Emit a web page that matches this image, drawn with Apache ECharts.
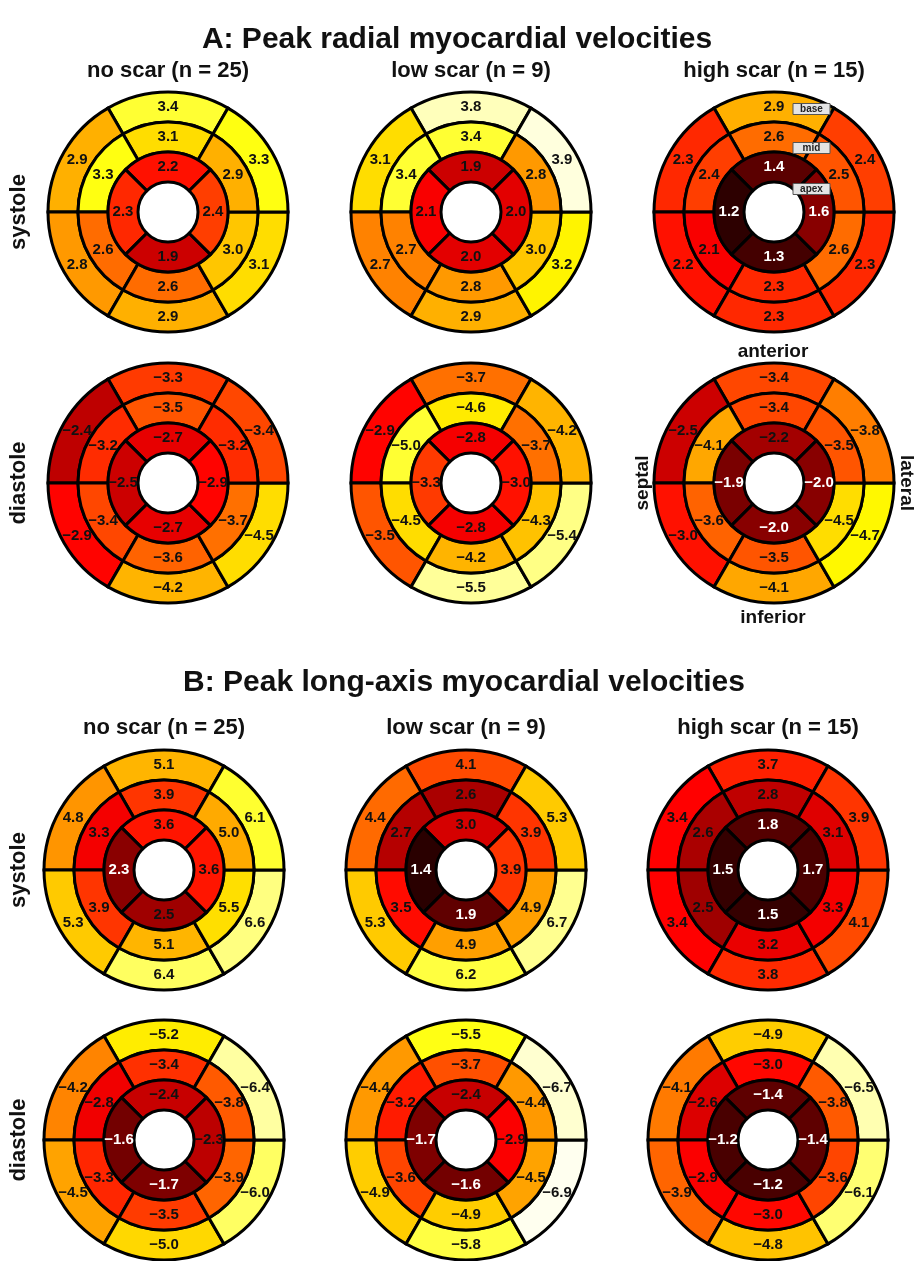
<!DOCTYPE html>
<html>
<head>
<meta charset="utf-8">
<title>Peak myocardial velocities</title>
<script src="https://cdn.jsdelivr.net/npm/echarts@6/dist/echarts.min.js"></script>
<style>
    html, body { margin: 0; padding: 0; background: #fff; }
    #chart { width: 914px; height: 1261px; }
</style>
</head>
<body>
<div id="chart"></div>
<script>
// segment order -- base / mid: [anterior, anteroseptal, inferoseptal, inferior, inferolateral, anterolateral]
//                  apex:       [anterior, septal, inferior, lateral]
var groups = ["no scar (n = 25)", "low scar (n = 9)", "high scar (n = 15)"];
var phases = ["systole", "diastole"];
var ringNames = ["base", "mid", "apex"];

// A: peak radial velocities, systole
var radSysBase = [[3.4, 2.9, 2.8, 2.9, 3.1, 3.3], [3.8, 3.1, 2.7, 2.9, 3.2, 3.9], [2.9, 2.3, 2.2, 2.3, 2.3, 2.4]];
var radSysMid  = [[3.1, 3.3, 2.6, 2.6, 3.0, 2.9], [3.4, 3.4, 2.7, 2.8, 3.0, 2.8], [2.6, 2.4, 2.1, 2.3, 2.6, 2.5]];
var radSysApex = [[2.2, 2.3, 1.9, 2.4], [1.9, 2.1, 2.0, 2.0], [1.4, 1.2, 1.3, 1.6]];

// A: peak radial velocities, diastole
var radDiaBase = [[-3.3, -2.4, -2.9, -4.2, -4.5, -3.4], [-3.7, -2.9, -3.5, -5.5, -5.4, -4.2], [-3.4, -2.5, -3.0, -4.1, -4.7, -3.8]];
var radDiaMid  = [[-3.5, -3.2, -3.4, -3.6, -3.7, -3.2], [-4.6, -5.0, -4.5, -4.2, -4.3, -3.7], [-3.4, -4.1, -3.6, -3.5, -4.5, -3.5]];
var radDiaApex = [[-2.7, -2.5, -2.7, -2.9], [-2.8, -3.3, -2.8, -3.0], [-2.2, -1.9, -2.0, -2.0]];

// B: peak long-axis velocities, systole
var longSysBase = [[5.1, 4.8, 5.3, 6.4, 6.6, 6.1], [4.1, 4.4, 5.3, 6.2, 6.7, 5.3], [3.7, 3.4, 3.4, 3.8, 4.1, 3.9]];
var longSysMid  = [[3.9, 3.3, 3.9, 5.1, 5.5, 5.0], [2.6, 2.7, 3.5, 4.9, 4.9, 3.9], [2.8, 2.6, 2.5, 3.2, 3.3, 3.1]];
var longSysApex = [[3.6, 2.3, 2.5, 3.6], [3.0, 1.4, 1.9, 3.9], [1.8, 1.5, 1.5, 1.7]];

// B: peak long-axis velocities, diastole
var longDiaBase = [[-5.2, -4.2, -4.5, -5.0, -6.0, -6.4], [-5.5, -4.4, -4.9, -5.8, -6.9, -6.7], [-4.9, -4.1, -3.9, -4.8, -6.1, -6.5]];
var longDiaMid  = [[-3.4, -2.8, -3.3, -3.5, -3.9, -3.8], [-3.7, -3.2, -3.6, -4.9, -4.5, -4.4], [-3.0, -2.6, -2.9, -3.0, -3.6, -3.8]];
var longDiaApex = [[-2.4, -1.6, -1.7, -2.3], [-2.4, -1.7, -1.6, -2.9], [-1.4, -1.2, -1.2, -1.4]];

// colour scale range of each row (hot colormap)
var rowRanges = [[1, 4], [-6, -1], [1, 7.4], [-7, -0.5]];

var rows = [
    [radSysBase, radSysMid, radSysApex],
    [radDiaBase, radDiaMid, radDiaApex],
    [longSysBase, longSysMid, longSysApex],
    [longDiaBase, longDiaMid, longDiaApex]
];

// layout
var colX = [[168, 471, 774], [168, 471, 774], [164, 466, 768], [164, 466, 768]];
var rowY = [212, 483, 870, 1140];
var R = 120;

var FONT = '"Liberation Sans", Arial, Helvetica, sans-serif';
var hotColors = ["#000000", "#550000", "#aa0000", "#ff0000", "#ff5500", "#ffaa00", "#ffff00", "#ffff80", "#ffffff"];

// centre angle of each segment (degrees, counter-clockwise from 3 o'clock)
var sixAngles = [90, 150, 210, 270, 330, 30];
var fourAngles = [90, 180, 270, 0];

function fmt(v) {
    return v < 0 ? "\u2212" + Math.abs(v).toFixed(1) : v.toFixed(1);
}

function panelData(rowArrays, col) {
    var d = [];
    // base ring: radius 3..4, mid: 2..3, apex: 1..2 (hole 0..1)
    rowArrays[0][col].forEach(function (v, i) { d.push([3.5, sixAngles[i], 3, 4, 30, v]); });
    rowArrays[1][col].forEach(function (v, i) { d.push([2.5, sixAngles[i], 2, 3, 30, v]); });
    rowArrays[2][col].forEach(function (v, i) { d.push([1.5, fourAngles[i], 1, 2, 45, v]); });
    return d;
}

function renderSegment(params, api) {
    var rMid = api.value(0), aMid = api.value(1);
    var r0 = api.value(2), r1 = api.value(3), half = api.value(4), v = api.value(5);
    var c = api.coord([0, 0]);
    var pIn = api.coord([r0, aMid]);
    var pOut = api.coord([r1, aMid]);
    var pLab = api.coord([rMid, aMid]);
    var rin = Math.hypot(pIn[0] - c[0], pIn[1] - c[1]);
    var rout = Math.hypot(pOut[0] - c[0], pOut[1] - c[1]);
    var color = api.visual("color");
    var rgb = echarts.color.parse(color);
    var lum = 0.299 * rgb[0] + 0.587 * rgb[1] + 0.114 * rgb[2];
    var d2r = Math.PI / 180;
    return {
        type: "group",
        children: [
            {
                type: "sector",
                shape: {
                    cx: c[0], cy: c[1], r0: rin, r: rout,
                    startAngle: -(aMid + half) * d2r,
                    endAngle: -(aMid - half) * d2r,
                    clockwise: true
                },
                style: { fill: color, stroke: "#000", lineWidth: 3 }
            },
            {
                type: "text",
                x: pLab[0], y: pLab[1], z2: 10,
                style: {
                    text: fmt(v),
                    font: "bold 15px " + FONT,
                    fill: lum < 45 ? "#fff" : "#111",
                    align: "center", verticalAlign: "middle",
                    textAlign: "center", textVerticalAlign: "middle"
                }
            }
        ]
    };
}

var polar = [], radiusAxis = [], angleAxis = [], series = [], visualMap = [];
rows.forEach(function (rowArrays, r) {
    for (var c = 0; c < 3; c++) {
        var idx = r * 3 + c;
        polar.push({ center: [colX[r][c], rowY[r]], radius: R });
        radiusAxis.push({ polarIndex: idx, type: "value", min: 0, max: 4, show: false });
        angleAxis.push({ polarIndex: idx, type: "value", min: 0, max: 360, startAngle: 0, clockwise: false, show: false });
        series.push({
            type: "custom",
            name: groups[c] + " " + phases[r % 2],
            coordinateSystem: "polar",
            polarIndex: idx,
            encode: { radius: 0, angle: 1 },
            renderItem: renderSegment,
            data: panelData(rowArrays, c)
        });
    }
    var rg = rowRanges[r];
    visualMap.push({
        type: "continuous",
        show: false,
        min: rg[0],
        max: rg[1],
        dimension: 5,
        seriesIndex: [r * 3, r * 3 + 1, r * 3 + 2],
        inRange: { color: rg[0] < 0 ? hotColors.slice().reverse() : hotColors }
    });
});

// texts
var graphic = [];
function addText(text, x, y, size, rot) {
    graphic.push({
        type: "text", x: x, y: y, rotation: rot || 0, z: 100,
        style: {
            text: text, font: "bold " + size + "px " + FONT, fill: "#111",
            align: "center", verticalAlign: "middle",
            textAlign: "center", textVerticalAlign: "middle"
        }
    });
}
addText("A: Peak radial myocardial velocities", 457, 40, 30);
addText("B: Peak long-axis myocardial velocities", 464, 683, 30);
for (var c = 0; c < 3; c++) {
    addText(groups[c], colX[0][c], 71, 22);
    addText(groups[c], colX[2][c], 728, 22);
}
rowY.forEach(function (y, r) {
    addText(phases[r % 2], 19, y, 22, Math.PI / 2);
});
addText("anterior", 773, 352, 19);
addText("inferior", 773, 618, 19);
addText("septal", 643, 483, 19, Math.PI / 2);
addText("lateral", 906, 483, 19, -Math.PI / 2);

// ring tags on the high-scar systole panel
var tagY = [109, 148, 189];
ringNames.forEach(function (t, i) {
    graphic.push({
        type: "rect", z: 100,
        shape: { x: 793, y: tagY[i] - 5.5, width: 37, height: 11 },
        style: { fill: "#e4e4e4", stroke: "#555", lineWidth: 1 }
    });
    graphic.push({
        type: "text", x: 811.5, y: tagY[i] + 0.5, z: 101,
        style: {
            text: t, font: "bold 10px " + FONT, fill: "#222",
            align: "center", verticalAlign: "middle",
            textAlign: "center", textVerticalAlign: "middle"
        }
    });
});

var chart = echarts.init(document.getElementById("chart"));
chart.setOption({
    backgroundColor: "#fff",
    animation: false,
    polar: polar,
    radiusAxis: radiusAxis,
    angleAxis: angleAxis,
    visualMap: visualMap,
    graphic: graphic,
    series: series
});
window.addEventListener("resize", function () {
    chart.resize();
});
</script>
</body>
</html>
